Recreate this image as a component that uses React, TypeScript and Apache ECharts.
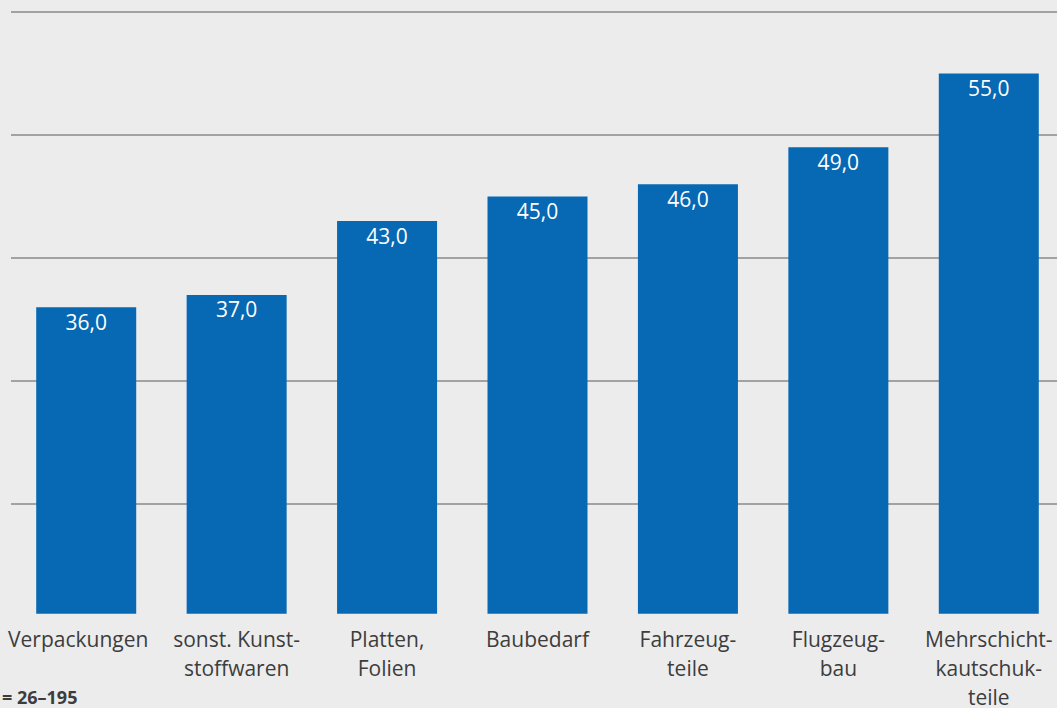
import React, { useEffect, useRef } from "react";
import * as echarts from "echarts";

const categories = [
  "Verpackungen",
  "sonst. Kunst-\nstoffwaren",
  "Platten,\nFolien",
  "Baubedarf",
  "Fahrzeug-\nteile",
  "Flugzeug-\nbau",
  "Mehrschicht-\nkautschuk-\nteile",
];
const values = [36.0, 37.0, 43.0, 45.0, 46.0, 49.0, 55.0];
const gridValues = [20, 30, 40, 50, 60];
const footnote = "= 26–195";

const FONT = '"Open Sans", "Noto Sans", sans-serif';

export default function App() {
  const ref = useRef<HTMLDivElement>(null);
  useEffect(() => {
    if (!ref.current) return;
    const chart = echarts.init(ref.current, null, { renderer: "svg" });
    chart.setOption({
      animation: false,
      backgroundColor: "#ececec",
      textStyle: { fontFamily: FONT },
      grid: { left: 11, top: 12, width: 1053, height: 601.7, outerBoundsMode: "none", containLabel: false },
      xAxis: {
        type: "category",
        data: categories,
        axisLine: { show: false },
        axisTick: { show: false },
        axisLabel: {
          interval: 0,
          color: "#3d3d3d",
          fontSize: 21,
          lineHeight: 29,
          margin: 11,
          fontFamily: FONT,
          formatter: (v: string, i: number) => (i === 0 ? `{first|${v}}` : v),
          rich: {
            first: {
              color: "#3d3d3d",
              fontSize: 21,
              lineHeight: 29,
              fontFamily: FONT,
              padding: [0, 16, 0, 0],
            },
          },
        },
      },
      yAxis: {
        type: "value",
        min: 11.08,
        max: 60,
        show: false,
        splitLine: { show: false },
      },
      series: [
        {
          type: "bar",
          data: values,
          barWidth: 100,
          z: 2,
          itemStyle: { color: "#0768b3" },
          label: {
            show: true,
            position: "insideTop",
            distance: 4,
            color: "#ffffff",
            fontSize: 21,
            fontFamily: FONT,
            formatter: (p: any) => p.value.toFixed(1).replace(".", ","),
          },
          markLine: {
            silent: true,
            z: 1,
            symbol: "none",
            label: { show: false },
            lineStyle: { type: "solid", color: "#8a8a8a", width: 1.5 },
            data: gridValues.map((v) => ({ yAxis: v })),
          },
        },
      ],
      graphic: [
        {
          type: "text",
          left: 2,
          top: 688,
          style: {
            text: footnote,
            fill: "#3d3d3d",
            font: `bold 18px ${FONT}`,
          },
        },
      ],
    });
    return () => chart.dispose();
  }, []);
  return (
    <div
      ref={ref}
      style={{ position: "absolute", left: 0, top: 0, width: 1057, height: 708, background: "#ececec" }}
    />
  );
}
